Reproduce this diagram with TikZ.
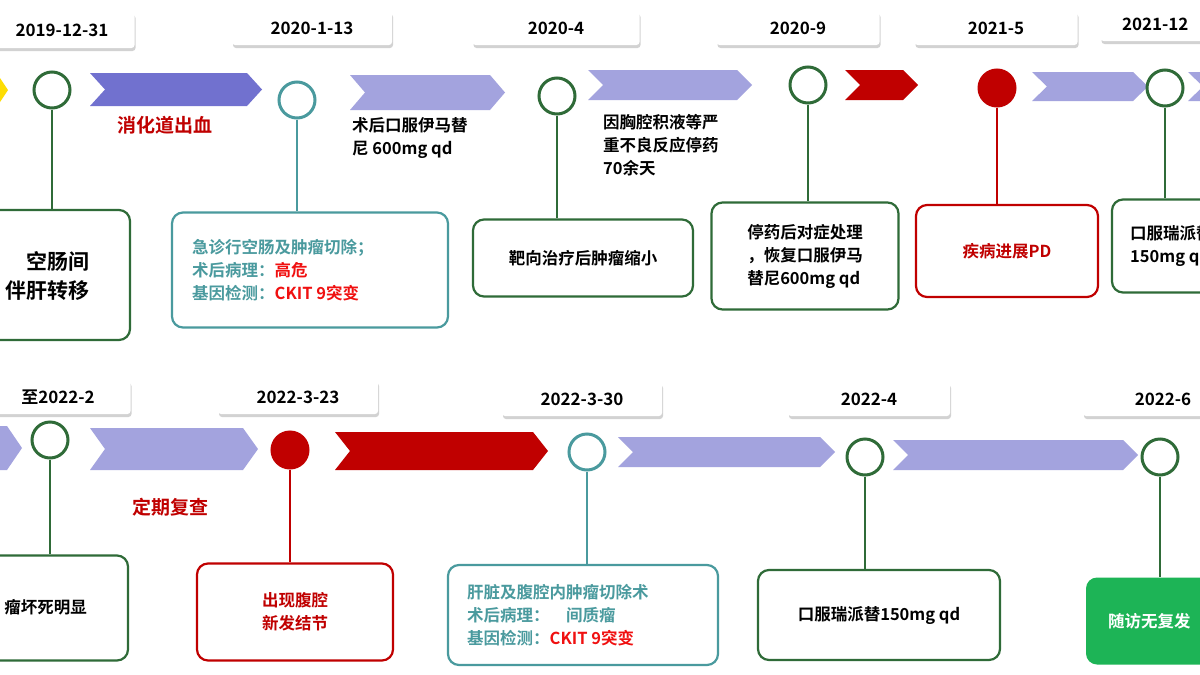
\documentclass[tikz,border=0pt]{standalone}
\usepackage{fontspec}
\setmainfont{Noto Sans CJK SC}[BoldFont={Noto Sans CJK SC Bold}]
\usetikzlibrary{shadows}
\definecolor{dgreen}{HTML}{2F6B38}
\definecolor{teal}{HTML}{4A9A9E}
\definecolor{dred}{HTML}{C00000}
\definecolor{vred}{HTML}{F01010}
\definecolor{dpurple}{HTML}{7171CF}
\definecolor{lpurple}{HTML}{A3A3DE}
\definecolor{lgreen}{HTML}{1DB456}
\tikzset{
  datebox/.style={fill=white,rounded corners=3pt,drop shadow={shadow xshift=1pt,shadow yshift=-3pt,opacity=0.35},
    font=\bfseries\fontsize{17}{20}\selectfont},
  dot/.style={circle,line width=3pt,draw=#1,fill=white,minimum size=36pt,inner sep=0pt},
  event/.style={draw=#1,line width=2.2pt,rounded corners=11pt,fill=white,inner sep=0pt},
  stem/.style={line width=2.5pt,draw=#1},
  txt/.style={font=\bfseries\fontsize{16.5}{23}\selectfont,align=left,inner sep=0pt},
}
\begin{document}
\begin{tikzpicture}[x=1pt,y=-1pt]
\useasboundingbox (0,0) rectangle (1200,675);
\clip (0,0) rectangle (1200,675);
\fill[white] (0,0) rectangle (1200,675);

\def\chevron#1#2#3#4#5{
  \fill[#5] (#1,#3) -- ({#2-15},#3) -- (#2,{(#3+#4)/2}) -- ({#2-15},#4) -- (#1,#4) -- ({#1+15},{(#3+#4)/2}) -- cycle;
}

% top row
\node[datebox,minimum width=145pt,minimum height=36pt] (d1) at (62,30) {2019-12-31};
\node[datebox,minimum width=160pt,minimum height=34pt] (d2) at (312,28) {2020-1-13};
\node[datebox,minimum width=167pt,minimum height=34pt] (d3) at (556,28) {2020-4};
\node[datebox,minimum width=163pt,minimum height=34pt] (d4) at (798,28) {2020-9};
\node[datebox,minimum width=163pt,minimum height=34pt] (d5) at (996,28) {2021-5};
\node[datebox,minimum width=163pt,minimum height=34pt,text width=120pt] (d6) at (1182,24) {2021-12};

\fill[yellow!80!orange] (-8,78) -- (0,78) -- (8,90) -- (0,102) -- (-8,102) -- cycle;
\chevron{90}{262}{73}{106}{dpurple}
\chevron{350}{505}{75}{110}{lpurple}
\chevron{588}{752}{70}{100}{lpurple}
\chevron{845}{918}{70}{100}{dred}
\chevron{1032}{1148}{72}{101}{lpurple}
\chevron{1188}{1260}{72}{101}{lpurple}

\node[event=dgreen,minimum width=200pt,minimum height=130pt] (b1) at (30,275) {};
\node[event=teal,minimum width=276pt,minimum height=115pt] (b2) at (310,270) {};
\node[event=dgreen,minimum width=220pt,minimum height=77pt] (b3) at (583,258) {};
\node[event=dgreen,minimum width=187pt,minimum height=107pt] (b4) at (805,256) {};
\node[event=dred,minimum width=182pt,minimum height=92pt] (b5) at (1007,251) {};
\node[event=dgreen,minimum width=200pt,minimum height=93pt] (b6) at (1212,246) {};

\node[dot=dgreen] (c1) at (52,90) {};
\node[dot=teal] (c2) at (297,100) {};
\node[dot=dgreen] (c3) at (557,96) {};
\node[dot=dgreen] (c4) at (808,85) {};
\node[dot=dred,fill=dred] (c5) at (997,88) {};
\node[dot=dgreen] (c6) at (1165,88) {};

\draw[stem=dgreen] (c1.south) -- (c1.south |- b1.north);
\draw[stem=teal] (c2.south) -- (c2.south |- b2.north);
\draw[stem=dgreen] (c3.south) -- (c3.south |- b3.north);
\draw[stem=dgreen] (c4.south) -- (c4.south |- b4.north);
\draw[stem=dred] (c5.south) -- (c5.south |- b5.north);
\draw[stem=dgreen] (c6.south) -- (c6.south |- b6.north);

\node[txt,font=\bfseries\fontsize{21}{29}\selectfont,align=right,anchor=east] (t1) at (90,276) {空肠间\\伴肝转移};
\node[txt,anchor=west,text=teal] (t2) at (192,270) {急诊行空肠及肿瘤切除；\\术后病理：\textcolor{vred}{高危}\\基因检测：\textcolor{vred}{CKIT 9突变}};
\node[txt] (t3) at (583,258) {靶向治疗后肿瘤缩小};
\node[txt] (t4) at (805,256) {停药后对症处理\\，恢复口服伊马\\替尼600mg qd};
\node[txt,text=dred] (t5) at (1007,251) {疾病进展PD};
\node[txt,anchor=west] (t6) at (1130,246) {口服瑞派替尼\\150mg qd};

\node[txt,text=dred,font=\bfseries\fontsize{19}{22}\selectfont] (n1) at (165,125) {消化道出血};
\node[txt,anchor=north west] (n2) at (352,117) {术后口服伊马替\\尼 600mg qd};
\node[txt,anchor=north west] (n3) at (603,114) {因胸腔积液等严\\重不良反应停药\\70余天};

% bottom row
\node[datebox,minimum width=145pt,minimum height=34pt,align=right] (d7) at (58,397) {至2022-2};
\node[datebox,minimum width=160pt,minimum height=34pt] (d8) at (298,397) {2022-3-23};
\node[datebox,minimum width=160pt,minimum height=34pt] (d9) at (582,399) {2022-3-30};
\node[datebox,minimum width=162pt,minimum height=34pt] (d10) at (869,399) {2022-4};
\node[datebox,minimum width=160pt,minimum height=34pt] (d11) at (1163,399) {2022-6};

\chevron{-30}{22}{426}{470}{lpurple}
\chevron{90}{258}{428}{470}{lpurple}
\chevron{335}{548}{432}{470}{dred}
\chevron{618}{835}{437}{467}{lpurple}
\chevron{893}{1138}{440}{470}{lpurple}

\node[event=dgreen,minimum width=200pt,minimum height=105pt] (b7) at (28,608) {};
\node[event=dred,minimum width=196pt,minimum height=97pt] (b8) at (295,612) {};
\node[event=teal,minimum width=270pt,minimum height=100pt] (b9) at (583,615) {};
\node[event=dgreen,minimum width=242pt,minimum height=90pt] (b10) at (879,615) {};
\node[fill=lgreen,rounded corners=11pt,minimum width=200pt,minimum height=87pt] (b11) at (1186,621) {};

\node[dot=dgreen] (c7) at (50,440) {};
\node[dot=dred,fill=dred] (c8) at (290,450) {};
\node[dot=teal] (c9) at (587,452) {};
\node[dot=dgreen] (c10) at (865,457) {};
\node[dot=dgreen] (c11) at (1160,457) {};

\draw[stem=dgreen] (c7.south) -- (c7.south |- b7.north);
\draw[stem=dred] (c8.south) -- (c8.south |- b8.north);
\draw[stem=teal] (c9.south) -- (c9.south |- b9.north);
\draw[stem=dgreen] (c10.south) -- (c10.south |- b10.north);
\draw[stem=dgreen] (c11.south) -- (c11.south |- b11.north);

\node[txt,anchor=east] (t7) at (87,607) {瘤坏死明显};
\node[txt,text=dred,align=center] (t8) at (295,612) {出现腹腔\\新发结节};
\node[txt,anchor=west,text=teal] (t9) at (467,615) {肝脏及腹腔内肿瘤切除术\\术后病理：\quad 间质瘤\\基因检测：\textcolor{vred}{CKIT 9突变}};
\node[txt] (t10) at (879,615) {口服瑞派替150mg qd};
\node[txt,anchor=west,text=white] (t11) at (1108,621) {随访无复发};

\node[txt,text=dred,font=\bfseries\fontsize{19}{22}\selectfont] (n4) at (170,507) {定期复查};
\end{tikzpicture}
\end{document}
